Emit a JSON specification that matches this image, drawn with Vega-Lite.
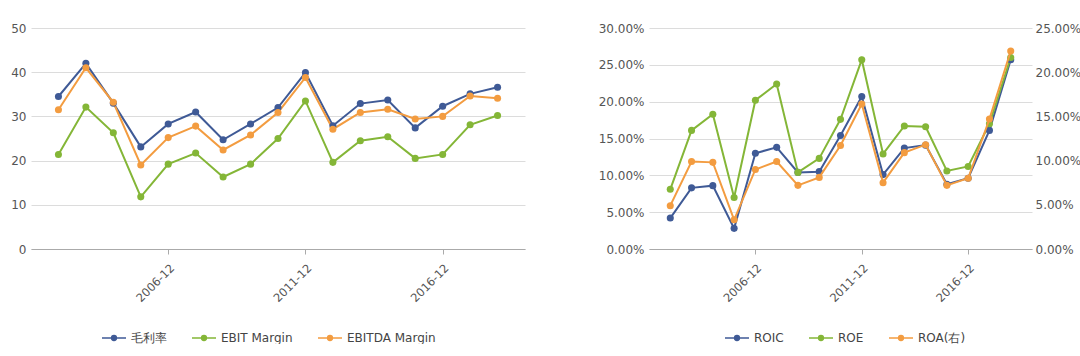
{
  "$schema": "https://vega.github.io/schema/vega-lite/v6.json",
  "padding": {"left": 10, "top": 22, "right": 0, "bottom": 0},
  "background": "white",
  "config": {
    "font": "DejaVu Sans",
    "view": {"stroke": null},
    "axis": {"labelFont": "DejaVu Sans", "labelColor": "#555555", "labelFontSize": 12, "gridColor": "#dcdcdc", "gridWidth": 1, "domainColor": "#aaaaaa", "tickColor": "#aaaaaa"},
    "legend": {"labelFont": "DejaVu Sans", "labelFontSize": 12, "labelColor": "#444444"}
  },
  "datasets": {
    "margin": [
      {"date": "2002-12", "series": "毛利率", "value": 34.5},
      {"date": "2003-12", "series": "毛利率", "value": 42.0},
      {"date": "2004-12", "series": "毛利率", "value": 33.0},
      {"date": "2005-12", "series": "毛利率", "value": 23.1},
      {"date": "2006-12", "series": "毛利率", "value": 28.3},
      {"date": "2007-12", "series": "毛利率", "value": 31.0},
      {"date": "2008-12", "series": "毛利率", "value": 24.7},
      {"date": "2009-12", "series": "毛利率", "value": 28.3},
      {"date": "2010-12", "series": "毛利率", "value": 32.0},
      {"date": "2011-12", "series": "毛利率", "value": 39.9},
      {"date": "2012-12", "series": "毛利率", "value": 27.9},
      {"date": "2013-12", "series": "毛利率", "value": 32.9},
      {"date": "2014-12", "series": "毛利率", "value": 33.7},
      {"date": "2015-12", "series": "毛利率", "value": 27.4},
      {"date": "2016-12", "series": "毛利率", "value": 32.3},
      {"date": "2017-12", "series": "毛利率", "value": 35.1},
      {"date": "2018-12", "series": "毛利率", "value": 36.6},
      {"date": "2002-12", "series": "EBIT Margin", "value": 21.4},
      {"date": "2003-12", "series": "EBIT Margin", "value": 32.1},
      {"date": "2004-12", "series": "EBIT Margin", "value": 26.3},
      {"date": "2005-12", "series": "EBIT Margin", "value": 11.8},
      {"date": "2006-12", "series": "EBIT Margin", "value": 19.2},
      {"date": "2007-12", "series": "EBIT Margin", "value": 21.7},
      {"date": "2008-12", "series": "EBIT Margin", "value": 16.3},
      {"date": "2009-12", "series": "EBIT Margin", "value": 19.2},
      {"date": "2010-12", "series": "EBIT Margin", "value": 25.0},
      {"date": "2011-12", "series": "EBIT Margin", "value": 33.5},
      {"date": "2012-12", "series": "EBIT Margin", "value": 19.6},
      {"date": "2013-12", "series": "EBIT Margin", "value": 24.5},
      {"date": "2014-12", "series": "EBIT Margin", "value": 25.4},
      {"date": "2015-12", "series": "EBIT Margin", "value": 20.5},
      {"date": "2016-12", "series": "EBIT Margin", "value": 21.4},
      {"date": "2017-12", "series": "EBIT Margin", "value": 28.1},
      {"date": "2018-12", "series": "EBIT Margin", "value": 30.2},
      {"date": "2002-12", "series": "EBITDA Margin", "value": 31.5},
      {"date": "2003-12", "series": "EBITDA Margin", "value": 41.0},
      {"date": "2004-12", "series": "EBITDA Margin", "value": 33.2},
      {"date": "2005-12", "series": "EBITDA Margin", "value": 19.0},
      {"date": "2006-12", "series": "EBITDA Margin", "value": 25.2},
      {"date": "2007-12", "series": "EBITDA Margin", "value": 27.8},
      {"date": "2008-12", "series": "EBITDA Margin", "value": 22.4},
      {"date": "2009-12", "series": "EBITDA Margin", "value": 25.8},
      {"date": "2010-12", "series": "EBITDA Margin", "value": 30.9},
      {"date": "2011-12", "series": "EBITDA Margin", "value": 38.8},
      {"date": "2012-12", "series": "EBITDA Margin", "value": 27.1},
      {"date": "2013-12", "series": "EBITDA Margin", "value": 30.9},
      {"date": "2014-12", "series": "EBITDA Margin", "value": 31.6},
      {"date": "2015-12", "series": "EBITDA Margin", "value": 29.4},
      {"date": "2016-12", "series": "EBITDA Margin", "value": 30.0},
      {"date": "2017-12", "series": "EBITDA Margin", "value": 34.6},
      {"date": "2018-12", "series": "EBITDA Margin", "value": 34.1}
    ],
    "returns": [
      {"date": "2002-12", "series": "ROIC", "value": 0.042},
      {"date": "2003-12", "series": "ROIC", "value": 0.083},
      {"date": "2004-12", "series": "ROIC", "value": 0.086},
      {"date": "2005-12", "series": "ROIC", "value": 0.028},
      {"date": "2006-12", "series": "ROIC", "value": 0.130},
      {"date": "2007-12", "series": "ROIC", "value": 0.138},
      {"date": "2008-12", "series": "ROIC", "value": 0.104},
      {"date": "2009-12", "series": "ROIC", "value": 0.105},
      {"date": "2010-12", "series": "ROIC", "value": 0.154},
      {"date": "2011-12", "series": "ROIC", "value": 0.207},
      {"date": "2012-12", "series": "ROIC", "value": 0.101},
      {"date": "2013-12", "series": "ROIC", "value": 0.137},
      {"date": "2014-12", "series": "ROIC", "value": 0.141},
      {"date": "2015-12", "series": "ROIC", "value": 0.088},
      {"date": "2016-12", "series": "ROIC", "value": 0.096},
      {"date": "2017-12", "series": "ROIC", "value": 0.161},
      {"date": "2018-12", "series": "ROIC", "value": 0.257},
      {"date": "2002-12", "series": "ROE", "value": 0.081},
      {"date": "2003-12", "series": "ROE", "value": 0.161},
      {"date": "2004-12", "series": "ROE", "value": 0.183},
      {"date": "2005-12", "series": "ROE", "value": 0.070},
      {"date": "2006-12", "series": "ROE", "value": 0.202},
      {"date": "2007-12", "series": "ROE", "value": 0.224},
      {"date": "2008-12", "series": "ROE", "value": 0.104},
      {"date": "2009-12", "series": "ROE", "value": 0.123},
      {"date": "2010-12", "series": "ROE", "value": 0.176},
      {"date": "2011-12", "series": "ROE", "value": 0.257},
      {"date": "2012-12", "series": "ROE", "value": 0.129},
      {"date": "2013-12", "series": "ROE", "value": 0.167},
      {"date": "2014-12", "series": "ROE", "value": 0.166},
      {"date": "2015-12", "series": "ROE", "value": 0.106},
      {"date": "2016-12", "series": "ROE", "value": 0.112},
      {"date": "2017-12", "series": "ROE", "value": 0.170},
      {"date": "2018-12", "series": "ROE", "value": 0.260},
      {"date": "2002-12", "series": "ROA(右)", "value": 0.049},
      {"date": "2003-12", "series": "ROA(右)", "value": 0.099},
      {"date": "2004-12", "series": "ROA(右)", "value": 0.098},
      {"date": "2005-12", "series": "ROA(右)", "value": 0.033},
      {"date": "2006-12", "series": "ROA(右)", "value": 0.090},
      {"date": "2007-12", "series": "ROA(右)", "value": 0.099},
      {"date": "2008-12", "series": "ROA(右)", "value": 0.072},
      {"date": "2009-12", "series": "ROA(右)", "value": 0.081},
      {"date": "2010-12", "series": "ROA(右)", "value": 0.117},
      {"date": "2011-12", "series": "ROA(右)", "value": 0.164},
      {"date": "2012-12", "series": "ROA(右)", "value": 0.075},
      {"date": "2013-12", "series": "ROA(右)", "value": 0.109},
      {"date": "2014-12", "series": "ROA(右)", "value": 0.118},
      {"date": "2015-12", "series": "ROA(右)", "value": 0.072},
      {"date": "2016-12", "series": "ROA(右)", "value": 0.080},
      {"date": "2017-12", "series": "ROA(右)", "value": 0.147},
      {"date": "2018-12", "series": "ROA(右)", "value": 0.224}
    ]
  },
  "hconcat": [
    {
      "width": 494,
      "height": 221,
      "data": {"name": "margin"},
      "mark": {"type": "line", "strokeWidth": 2, "point": {"filled": true, "size": 50, "opacity": 1}},
      "encoding": {
        "x": {"field": "date", "type": "ordinal", "sort": null, "scale": {"type": "point", "padding": 1},
              "axis": {"title": null, "values": ["2006-12", "2011-12", "2016-12"], "labelAngle": -45, "labelFontSize": 11.5, "labelPadding": 8, "tickSize": 5, "grid": false}},
        "y": {"field": "value", "type": "quantitative", "scale": {"domain": [0, 50], "nice": false},
              "axis": {"title": null, "values": [0, 10, 20, 30, 40, 50], "domain": false, "ticks": false, "labelPadding": 5}},
        "color": {"field": "series", "type": "nominal",
                  "scale": {"domain": ["毛利率", "EBIT Margin", "EBITDA Margin"], "range": ["#3f5a96", "#84b637", "#f39c40"]},
                  "legend": {"title": null, "orient": "none", "legendX": 70, "legendY": 297, "direction": "horizontal", "columnPadding": 22, "labelOffset": 4,
                             "symbolType": "M-1,0H1M-0.2,0A0.2,0.2,0,1,1,0.2,0A0.2,0.2,0,1,1,-0.2,0Z", "symbolSize": 576, "symbolStrokeWidth": 1.5,
                             "encode": {"symbols": {"update": {"fill": {"scale": "color", "field": "value"}}}}}}
      }
    },
    {
      "width": 383,
      "height": 221,
      "data": {"name": "returns"},
      "layer": [
        {
          "transform": [{"filter": "datum.series !== 'ROA(右)'"}],
          "mark": {"type": "line", "strokeWidth": 2, "point": {"filled": true, "size": 50, "opacity": 1}},
          "encoding": {
            "x": {"field": "date", "type": "ordinal", "sort": null, "scale": {"type": "point", "padding": 1},
                  "axis": {"title": null, "values": ["2006-12", "2011-12", "2016-12"], "labelAngle": -45, "labelFontSize": 11.5, "labelPadding": 8, "tickSize": 5, "grid": false}},
            "y": {"field": "value", "type": "quantitative", "scale": {"domain": [0, 0.3], "nice": false},
                  "axis": {"title": null, "format": ".2%", "values": [0, 0.05, 0.1, 0.15, 0.2, 0.25, 0.3], "domain": false, "ticks": false, "labelPadding": 5}},
            "color": {"field": "series", "type": "nominal",
                      "scale": {"domain": ["ROIC", "ROE", "ROA(右)"], "range": ["#3f5a96", "#84b637", "#f39c40"]},
                      "legend": {"title": null, "orient": "none", "legendX": 75, "legendY": 297, "direction": "horizontal", "columnPadding": 22, "labelOffset": 4,
                                 "symbolType": "M-1,0H1M-0.2,0A0.2,0.2,0,1,1,0.2,0A0.2,0.2,0,1,1,-0.2,0Z", "symbolSize": 576, "symbolStrokeWidth": 1.5,
                                 "encode": {"symbols": {"update": {"fill": {"scale": "color", "field": "value"}}}}}}
          }
        },
        {
          "transform": [{"filter": "datum.series === 'ROA(右)'"}],
          "mark": {"type": "line", "strokeWidth": 2, "point": {"filled": true, "size": 50, "opacity": 1}},
          "encoding": {
            "x": {"field": "date", "type": "ordinal", "sort": null},
            "y": {"field": "value", "type": "quantitative", "scale": {"domain": [0, 0.25], "nice": false},
                  "axis": {"title": null, "orient": "right", "format": ".2%", "values": [0, 0.05, 0.1, 0.15, 0.2, 0.25], "domain": false, "ticks": false, "grid": false, "labelPadding": 3}},
            "color": {"field": "series", "type": "nominal"}
          }
        }
      ],
      "resolve": {"scale": {"y": "independent"}}
    }
  ],
  "spacing": 73,
  "resolve": {"scale": {"color": "independent"}}
}
